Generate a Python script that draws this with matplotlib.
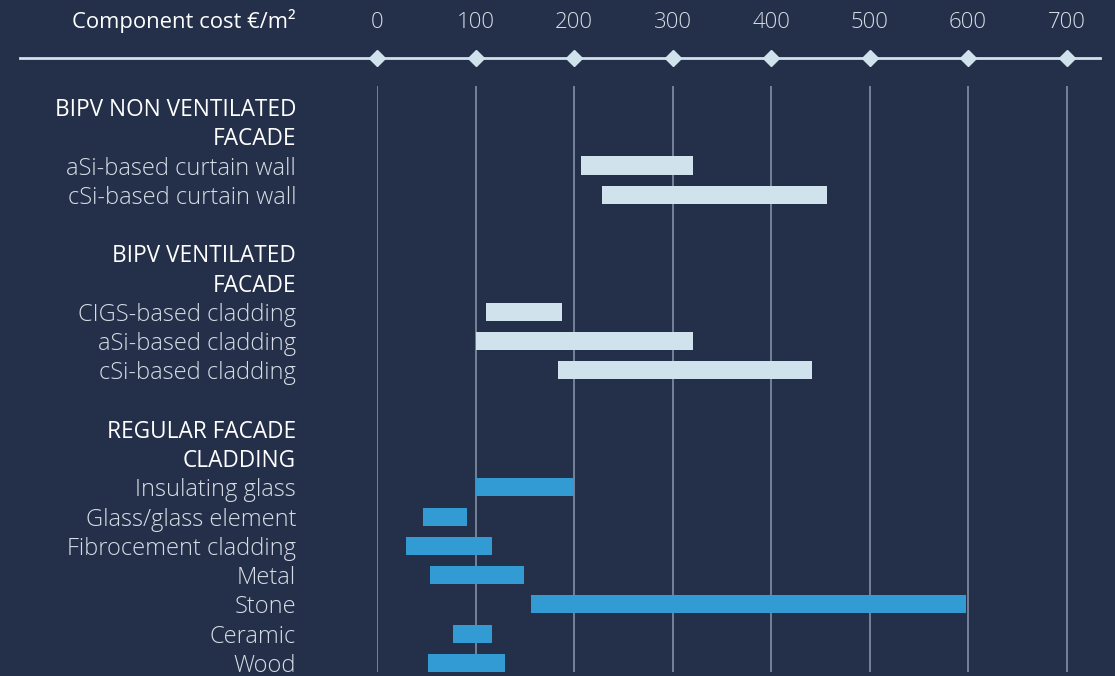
import matplotlib.pyplot as plt
from matplotlib.lines import Line2D
from matplotlib.transforms import blended_transform_factory

# rows top to bottom; headers have no bar
labels = ["BIPV NON VENTILATED", "FACADE", "aSi-based curtain wall", "cSi-based curtain wall", "",
          "BIPV VENTILATED", "FACADE", "CIGS-based cladding", "aSi-based cladding", "cSi-based cladding", "",
          "REGULAR FACADE", "CLADDING", "Insulating glass", "Glass/glass element", "Fibrocement cladding",
          "Metal", "Stone", "Ceramic", "Wood"]
is_header = [True, True, False, False, False,
             True, True, False, False, False, False,
             True, True, False, False, False, False, False, False, False]

bipv_rows = [2, 3, 7, 8, 9]
bipv_low = [207, 228, 110, 100, 184]
bipv_high = [321, 457, 188, 321, 442]

reg_rows = [13, 14, 15, 16, 17, 18, 19]
reg_low = [100, 46, 29, 54, 156, 77, 52]
reg_high = [200, 91, 116, 149, 598, 116, 130]

ticks = [0, 100, 200, 300, 400, 500, 600, 700]

bg = '#243049'
light = '#d0e2ec'
blue = '#329bd4'
grid_c = '#8390a6'

plt.rcParams['font.family'] = ['Open Sans', 'DejaVu Sans']

W, H = 1115, 676
fig = plt.figure(figsize=(W / 100, H / 100), dpi=100, facecolor=bg)

px_unit = (1066.5 - 377.3) / 700
row_px = 29.26
left_px, right_px, top_px = 377.3, 1100, 86
ax = fig.add_axes([left_px / W, 0, (right_px - left_px) / W, (H - top_px) / H])
ax.set_facecolor(bg)
ax.set_xlim(0, (right_px - left_px) / px_unit)
ax.set_ylim((H - 107) / row_px, (top_px - 107) / row_px)
for s in ax.spines.values():
    s.set_visible(False)

ax.vlines(ticks, (top_px - 107) / row_px, (672 - 107) / row_px, color=grid_c, lw=1.2, zorder=1)

bh = 0.62
ax.barh(bipv_rows, [h - l for l, h in zip(bipv_low, bipv_high)], left=bipv_low,
        height=bh, color=light, zorder=2)
ax.barh(reg_rows, [h - l for l, h in zip(reg_low, reg_high)], left=reg_low,
        height=bh, color=blue, zorder=2)

ax.set_xticks([])
ax.set_yticks(range(len(labels)))
ax.set_yticklabels(labels)
ax.tick_params(axis='y', length=0, pad=(left_px - 296) * 0.72)
for lab, hdr in zip(ax.get_yticklabels(), is_header):
    if hdr:
        lab.set_color('white')
        lab.set_fontsize(16.3)
        lab.set_fontweight('normal')
    else:
        lab.set_color('#d6dde6')
        lab.set_fontsize(17)
        lab.set_fontweight('light')

# top scale: line with diamond markers and value labels
line_y = 1 - 58 / H
fig.add_artist(Line2D([20 / W, 1100 / W], [line_y, line_y], color=light, lw=2))
tr = blended_transform_factory(ax.transData, fig.transFigure)
ax.plot(ticks, [line_y] * len(ticks), transform=tr, ls='none', marker='D', ms=8.5,
        color=light, clip_on=False, zorder=5)
for t in ticks:
    ax.text(t, 1 - 28 / H, str(t), transform=tr, ha='center', va='baseline',
            color='#d6dde6', fontsize=16, fontweight='light')
fig.text(296 / W, 1 - 28 / H, 'Component cost €/m²', ha='right', va='baseline',
         color='white', fontsize=15.8)

fig.savefig('out.png', dpi=100, facecolor=bg)
